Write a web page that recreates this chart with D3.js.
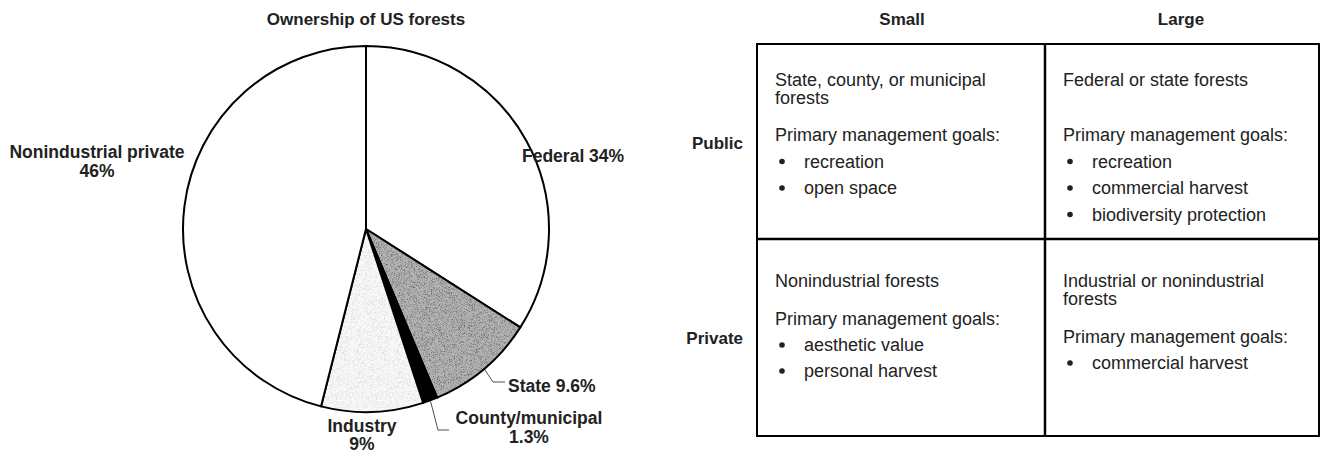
<!DOCTYPE html>
<html>
<head>
<meta charset="utf-8">
<script src="https://cdn.jsdelivr.net/npm/d3@7"></script>
<style>
  body { margin: 0; background: #fff; }
  svg { display: block; }
  text { font-family: "Liberation Sans", Arial, sans-serif; fill: #222; }
  .bold { font-weight: bold; }
</style>
</head>
<body>
<svg id="chart" width="1322" height="454"></svg>
<script>
// Ownership of US forests — pie + ownership/goal matrix

// pie data (clockwise from 12 o'clock)
const sliceNames = ['Federal', 'State', 'County/municipal', 'Industry', 'Nonindustrial private'];
const sliceValues = [34, 9.6, 1.3, 9, 46];
const sliceLabels = [['Federal 34%'], ['State 9.6%'], ['County/municipal', '1.3%'], ['Industry', '9%'], ['Nonindustrial private', '46%']];

// matrix data
const colHeaders = ['Small', 'Large'];
const rowHeaders = ['Public', 'Private'];
const cellTitles = [
    [['State, county, or municipal', 'forests'], ['Federal or state forests']],
    [['Nonindustrial forests'], ['Industrial or nonindustrial', 'forests']]
];
const cellGoals = [
    [['recreation', 'open space'], ['recreation', 'commercial harvest', 'biodiversity protection']],
    [['aesthetic value', 'personal harvest'], ['commercial harvest']]
];

const svg = d3.select('#chart');

// ---- pie ----
const CX = 366, CY = 229, R = 183;
const fills = {
    'Federal': '#fff',
    'State': 'url(#stateTex)',
    'County/municipal': '#000',
    'Industry': 'url(#industryTex)',
    'Nonindustrial private': '#fff'
};

// stipple textures
const defs = svg.append('defs');
function stipple(id, base, amount, seed) {
    const f = defs.append('filter').attr('id', id + 'F')
        .attr('x', 0).attr('y', 0).attr('width', 1).attr('height', 1);
    f.append('feTurbulence').attr('type', 'fractalNoise')
        .attr('baseFrequency', 1.6).attr('numOctaves', 1).attr('seed', seed).attr('result', 'n');
    f.append('feColorMatrix').attr('in', 'n').attr('type', 'matrix')
        .attr('values', `0 0 0 0 0  0 0 0 0 0  0 0 0 0 0  ${amount} 0 0 0 ${-amount * 0.45}`)
        .attr('result', 'dots');
    f.append('feFlood').attr('flood-color', base).attr('result', 'bg');
    f.append('feMerge').call(m => {
        m.append('feMergeNode').attr('in', 'bg');
        m.append('feMergeNode').attr('in', 'dots');
    });
    const p = defs.append('pattern').attr('id', id)
        .attr('patternUnits', 'userSpaceOnUse').attr('width', 200).attr('height', 200);
    p.append('rect').attr('width', 200).attr('height', 200).attr('filter', `url(#${id}F)`);
}
stipple('stateTex', '#b4b4b4', 2.2, 3);
stipple('industryTex', '#fafafa', 0.9, 7);

const pie = d3.pie().sort(null).value(d => d.value);
const arcs = pie(sliceNames.map((n, i) => ({ name: n, value: sliceValues[i], label: sliceLabels[i] })));
const arc = d3.arc().innerRadius(0).outerRadius(R);

const pieG = svg.append('g').attr('transform', `translate(${CX},${CY})`);
pieG.selectAll('path')
    .data(arcs)
    .join('path')
    .attr('d', arc)
    .attr('fill', d => fills[d.data.name])
    .attr('stroke', '#000')
    .attr('stroke-width', 2)
    .attr('stroke-linejoin', 'round');

svg.append('text')
    .attr('class', 'bold')
    .attr('x', CX).attr('y', 25)
    .attr('text-anchor', 'middle')
    .attr('font-size', 17)
    .text('Ownership of US forests');

// label placement (relative to pie centre)
const labelLayout = {
    'Federal': { x: 156, y: -67, anchor: 'start', dy: 0 },
    'State': { x: 142, y: 163, anchor: 'start', leader: [[127, 153], [139, 153]] },
    'County/municipal': { x: 163, y: 195, anchor: 'middle', dy: 19, leader: [[72, 201], [83, 201]] },
    'Industry': { x: -4, y: 203, anchor: 'middle', dy: 18 },
    'Nonindustrial private': { x: -269, y: -71, anchor: 'middle', dy: 19 }
};

arcs.forEach(d => {
    const L = labelLayout[d.data.name];
    const t = pieG.append('text')
        .attr('class', 'bold')
        .attr('font-size', 17.5)
        .attr('text-anchor', L.anchor)
        .attr('x', L.x).attr('y', L.y);
    d.data.label.forEach((s, i) => {
        t.append('tspan').attr('x', L.x).attr('dy', i ? L.dy : 0).text(s);
    });
    if (L.leader) {
        const a = (d.startAngle + d.endAngle) / 2;
        const p0 = [Math.sin(a) * (R + 1), -Math.cos(a) * (R + 1)];
        pieG.append('path')
            .attr('d', d3.line()([p0, ...L.leader]))
            .attr('fill', 'none')
            .attr('stroke', '#222')
            .attr('stroke-width', 0.8);
    }
});

// ---- matrix ----
const xEdges = [757, 1045, 1319];
const yEdges = [44, 239, 436];

const grid = svg.append('g');
grid.append('rect')
    .attr('x', xEdges[0]).attr('y', yEdges[0])
    .attr('width', xEdges[2] - xEdges[0]).attr('height', yEdges[2] - yEdges[0])
    .attr('fill', 'none').attr('stroke', '#000').attr('stroke-width', 2);
grid.append('line')
    .attr('x1', xEdges[1]).attr('x2', xEdges[1]).attr('y1', yEdges[0]).attr('y2', yEdges[2])
    .attr('stroke', '#000').attr('stroke-width', 2.5);
grid.append('line')
    .attr('x1', xEdges[0]).attr('x2', xEdges[2]).attr('y1', yEdges[1]).attr('y2', yEdges[1])
    .attr('stroke', '#000').attr('stroke-width', 2.5);

colHeaders.forEach((c, i) => {
    svg.append('text').attr('class', 'bold')
        .attr('x', [902, 1181][i])
        .attr('y', 25)
        .attr('text-anchor', 'middle')
        .attr('font-size', 17)
        .text(c);
});
rowHeaders.forEach((r, i) => {
    svg.append('text').attr('class', 'bold')
        .attr('x', 743)
        .attr('y', [149, 344][i])
        .attr('text-anchor', 'end')
        .attr('font-size', 17)
        .text(r);
});

const FS = 18;
// baselines per cell: title, goals heading, bullet step
const cellLayout = [
    [{ t: 86, g: 141, s: 26.5 }, { t: 86, g: 141, s: 26.5 }],
    [{ t: 287, g: 325, s: 26 }, { t: 287, g: 343, s: 26 }]
];
rowHeaders.forEach((r, ri) => {
    colHeaders.forEach((c, ci) => {
        const left = xEdges[ci] + 18;
        const L = cellLayout[ri][ci];
        const g = svg.append('g');
        cellTitles[ri][ci].forEach((s, k) => {
            g.append('text').attr('x', left).attr('y', L.t + k * 17.5)
                .attr('font-size', FS).text(s);
        });
        g.append('text').attr('x', left).attr('y', L.g)
            .attr('font-size', FS).text('Primary management goals:');
        cellGoals[ri][ci].forEach((s, k) => {
            const yy = L.g + L.s * (k + 1);
            g.append('circle').attr('cx', left + 7).attr('cy', yy - 6).attr('r', 2.8).attr('fill', '#222');
            g.append('text').attr('x', left + 29).attr('y', yy)
                .attr('font-size', FS).text(s);
        });
    });
});
</script>
</body>
</html>
